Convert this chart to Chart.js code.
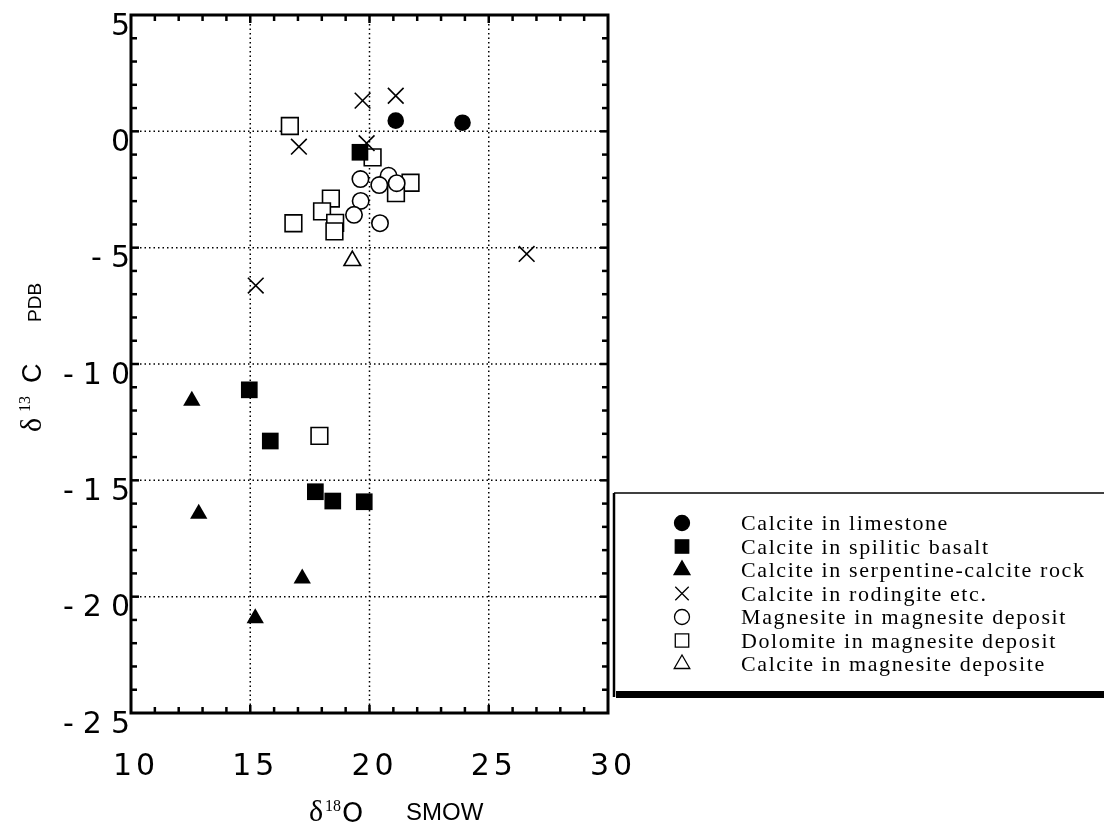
<!DOCTYPE html>
<html>
<head>
<meta charset="utf-8">
<script src="https://cdn.jsdelivr.net/npm/chart.js@4.4.1/dist/chart.umd.min.js"></script>
<style>
  html, body { margin: 0; padding: 0; background: #fff; }
  #wrap { width: 1104px; height: 824px; }
</style>
</head>
<body>
<div id="wrap"><canvas id="isoChart" width="1104" height="824"></canvas></div>
<script>
// Tick values and their printed labels
const xTickValues = [10, 15, 20, 25, 30];
const xTickLabels = ['10', '15', '20', '25', '30'];
const yTickValues = [5, 0, -5, -10, -15, -20, -25];
const yTickLabels = ['5', '0', '-5', '-10', '-15', '-20', '-25'];

const seriesNames = [
    'Calcite in limestone',
    'Calcite in spilitic basalt',
    'Calcite in serpentine-calcite rock',
    'Calcite in rodingite etc.',
    'Magnesite in magnesite deposit',
    'Dolomite in magnesite deposit',
    'Calcite in magnesite deposite'
];

// d18O (x) and d13C (y) for each group
const limestoneX = [21.1, 23.9];
const limestoneY = [0.46, 0.37];
const basaltX = [19.6, 14.96, 15.84, 17.73, 18.46, 19.78];
const basaltY = [-0.9, -11.11, -13.31, -15.49, -15.89, -15.92];
const serpentineX = [12.55, 12.84, 17.18, 15.21];
const serpentineY = [-11.58, -16.44, -19.22, -20.93];
const rodingiteX = [19.71, 21.1, 17.04, 19.88, 26.59, 15.23];
const rodingiteY = [1.32, 1.53, -0.66, -0.51, -5.27, -6.63];
const magnesiteX = [19.62, 20.8, 20.41, 21.14, 19.63, 19.35, 20.44];
const magnesiteY = [-2.05, -1.91, -2.31, -2.23, -2.99, -3.59, -3.95];
const dolomiteX = [16.66, 20.13, 21.72, 21.11, 18.38, 18.01, 16.81, 18.56, 18.53, 17.9];
const dolomiteY = [0.23, -1.12, -2.21, -2.66, -2.89, -3.44, -3.95, -3.93, -4.3, -13.09];
const calciteMagX = [19.28];
const calciteMagY = [-5.56];

// marker styles per group (plot / legend)
const markerStyle = [
    { style: 'circle',   fill: '#000', radius: 8.3,  legendRadius: 7.5 },
    { style: 'rect',     fill: '#000', radius: 11.8, legendRadius: 9.5 },
    { style: 'triangle', fill: '#000', radius: 10,   legendRadius: 9.2 },
    { style: 'crossRot', fill: '#000', radius: 11.1, legendRadius: 9.5 },
    { style: 'circle',   fill: '#fff', radius: 8.2,  legendRadius: 7.5 },
    { style: 'rect',     fill: '#fff', radius: 11.8, legendRadius: 9.5 },
    { style: 'triangle', fill: '#fff', radius: 9.6,  legendRadius: 9 }
];

const xsAll = [limestoneX, basaltX, serpentineX, rodingiteX, magnesiteX, dolomiteX, calciteMagX];
const ysAll = [limestoneY, basaltY, serpentineY, rodingiteY, magnesiteY, dolomiteY, calciteMagY];

function toPoints(xs, ys) {
    return xs.map((x, i) => ({ x: x, y: ys[i] }));
}

// draw a string char by char with extra spacing
function spacedText(ctx, str, x, y, align, gap) {
    const chars = [...str];
    const widths = chars.map(c => ctx.measureText(c).width);
    const total = widths.reduce((s, w) => s + w, 0) + gap * (chars.length - 1);
    let cx = x;
    if (align === 'right') cx = x - total;
    if (align === 'center') cx = x - total / 2;
    ctx.textAlign = 'left';
    chars.forEach((c, i) => {
        ctx.fillText(c, cx, y);
        cx += widths[i] + gap;
    });
}

function line(ctx, x1, y1, x2, y2) {
    ctx.beginPath();
    ctx.moveTo(x1, y1);
    ctx.lineTo(x2, y2);
    ctx.stroke();
}

// dotted grid behind the markers
const dottedGrid = {
    id: 'dottedGrid',
    beforeDatasetsDraw(chart) {
        const ctx = chart.ctx;
        const a = chart.chartArea;
        const xs = chart.scales.x, ys = chart.scales.y;
        ctx.save();
        ctx.strokeStyle = '#000';
        ctx.lineWidth = 1.5;
        ctx.setLineDash([1.5, 3]);
        xTickValues.forEach(v => {
            const px = xs.getPixelForValue(v);
            line(ctx, px, a.top, px, a.bottom);
        });
        yTickValues.forEach(v => {
            const py = ys.getPixelForValue(v);
            line(ctx, a.left, py, a.right, py);
        });
        ctx.restore();
    }
};

// frame, inward ticks, labels, titles and legend box
const frameAndLegend = {
    id: 'frameAndLegend',
    afterDraw(chart) {
        const ctx = chart.ctx;
        const a = chart.chartArea;
        const xs = chart.scales.x, ys = chart.scales.y;
        ctx.save();
        ctx.strokeStyle = '#000';
        ctx.fillStyle = '#000';

        // inward ticks every unit
        ctx.lineWidth = 2.5;
        for (let v = 11; v < 30; v++) {
            const px = xs.getPixelForValue(v);
            const len = v % 5 === 0 ? 8 : 6;
            line(ctx, px, a.bottom, px, a.bottom - len);
            line(ctx, px, a.top, px, a.top + len);
        }
        for (let v = -24; v < 5; v++) {
            const py = ys.getPixelForValue(v);
            const len = v % 5 === 0 ? 8 : 6;
            line(ctx, a.left, py, a.left + len, py);
            line(ctx, a.right, py, a.right - len, py);
        }

        // frame
        ctx.lineWidth = 3;
        ctx.strokeRect(a.left, a.top, a.right - a.left, a.bottom - a.top);

        // tick labels
        ctx.font = '30px "DejaVu Sans"';
        ctx.textBaseline = 'alphabetic';
        yTickValues.forEach((v, i) => {
            const py = ys.getPixelForValue(v);
            spacedText(ctx, yTickLabels[i], a.left - 1, py + 19.5, 'right', 9);
        });
        xTickValues.forEach((v, i) => {
            const px = xs.getPixelForValue(v);
            spacedText(ctx, xTickLabels[i], px + 3, 775, 'center', 4);
        });

        // x axis title
        ctx.font = '30px "Liberation Serif"';
        ctx.fillText('\u03B4', 309, 821);
        ctx.font = '16px "Liberation Serif"';
        ctx.fillText('18', 325, 811);
        ctx.font = '27px "DejaVu Sans"';
        ctx.fillText('O', 342, 822);
        ctx.font = '24px "Liberation Sans"';
        ctx.fillText('SMOW', 406, 820);

        // y axis title (rotated)
        ctx.save();
        ctx.translate(41, 432);
        ctx.rotate(-Math.PI / 2);
        ctx.textAlign = 'left';
        ctx.font = '30px "Liberation Serif"';
        ctx.fillText('\u03B4', 0, 0);
        ctx.font = '16px "Liberation Serif"';
        ctx.fillText('13', 20, -11);
        ctx.font = '27px "Liberation Sans"';
        ctx.fillText('C', 49, 0);
        ctx.font = '19px "Liberation Sans"';
        ctx.fillText('PDB', 110, 0);
        ctx.restore();

        // legend box
        const boxLeft = 614, boxTop = 493, boxBottom = 697;
        ctx.lineWidth = 1.5;
        line(ctx, boxLeft, boxTop, 1110, boxTop);
        ctx.lineWidth = 2.5;
        line(ctx, boxLeft, boxTop, boxLeft, boxBottom);
        ctx.fillRect(boxLeft + 2, boxBottom - 6, 500, 7);

        const rowTop = 523, rowStep = 23.5;
        seriesNames.forEach((name, i) => {
            const ms = markerStyle[i];
            const cy = rowTop + i * rowStep;
            ctx.fillStyle = ms.fill;
            ctx.strokeStyle = '#000';
            ctx.lineWidth = 1.3;
            Chart.helpers.drawPoint(ctx, {
                pointStyle: ms.style,
                radius: ms.legendRadius,
                rotation: 0,
                borderWidth: 1.3
            }, 682, cy);
            ctx.fillStyle = '#000';
            ctx.font = '22px "Liberation Serif"';
            spacedText(ctx, name, 741, cy + 7, 'left', 1.6);
        });
        ctx.restore();
    }
};

const datasets = seriesNames.map((name, i) => ({
    label: name,
    data: toPoints(xsAll[i], ysAll[i]),
    pointStyle: markerStyle[i].style,
    pointRadius: markerStyle[i].radius,
    pointHoverRadius: markerStyle[i].radius,
    backgroundColor: markerStyle[i].fill,
    borderColor: '#000',
    borderWidth: markerStyle[i].fill === '#000' && markerStyle[i].style !== 'crossRot' ? 0 : 1.6,
    clip: false
}));

new Chart(document.getElementById('isoChart'), {
    type: 'scatter',
    data: { datasets: datasets },
    options: {
        responsive: false,
        animation: false,
        devicePixelRatio: 1,
        layout: { padding: { top: 15, right: 496, left: 0, bottom: 0 } },
        plugins: {
            legend: { display: false },
            tooltip: { enabled: false }
        },
        scales: {
            x: {
                type: 'linear',
                min: 10,
                max: 30,
                ticks: { display: false, stepSize: 5 },
                grid: { display: false },
                border: { display: false },
                afterFit: s => { s.height = 111; }
            },
            y: {
                type: 'linear',
                min: -25,
                max: 5,
                ticks: { display: false, stepSize: 5 },
                grid: { display: false },
                border: { display: false },
                afterFit: s => { s.width = 131; }
            }
        }
    },
    plugins: [dottedGrid, frameAndLegend]
});
</script>
</body>
</html>
